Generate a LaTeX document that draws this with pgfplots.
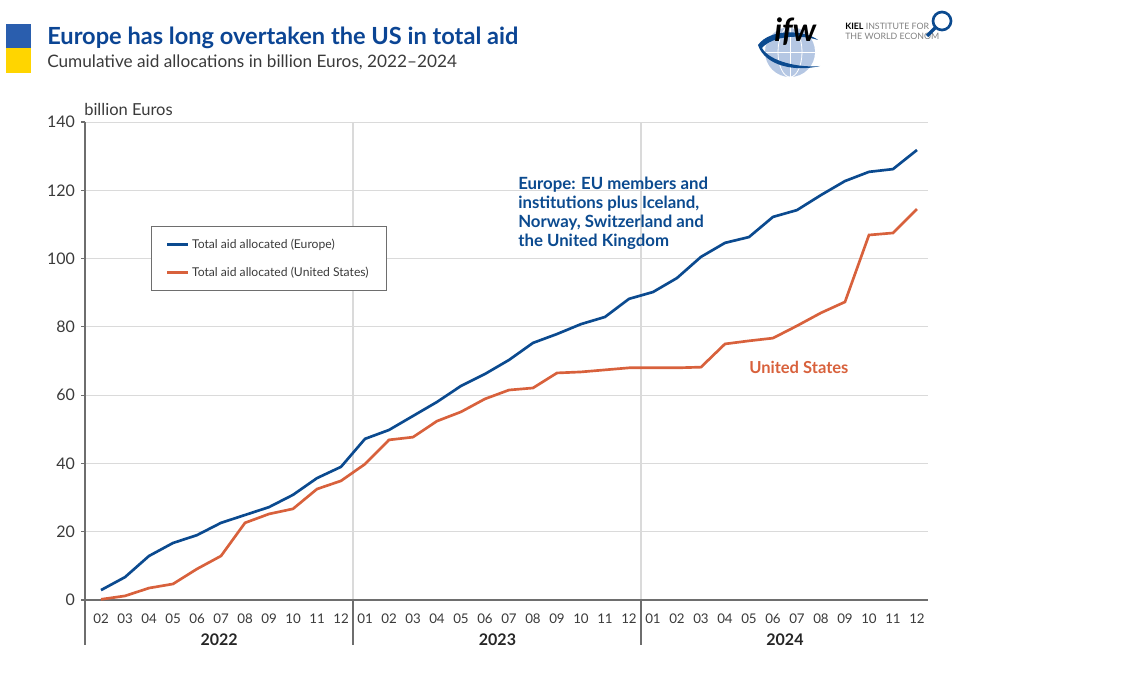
\documentclass[border=0pt]{standalone}
\usepackage{fontspec}
\setmainfont{Lato}
\usepackage{pgfplots}
\pgfplotsset{compat=1.18}
\definecolor{eu}{HTML}{0B4A8F}
\definecolor{us}{HTML}{D8613C}
\definecolor{flagblue}{HTML}{2A5EAE}
\definecolor{flagyellow}{HTML}{FFD500}
\definecolor{titleblue}{HTML}{0B4594}
\definecolor{gridc}{HTML}{DADADA}
\definecolor{axc}{HTML}{6E6E6E}
\definecolor{txt}{HTML}{3A3A3A}
\begin{document}
\begin{tikzpicture}[x=0.75pt,y=-0.75pt]
\path[use as bounding box] (0,0) rectangle (1137,673);
% flag
\fill[flagblue] (6,24) rectangle (31,48);
\fill[flagyellow] (6,48) rectangle (31,73);
% title
\node[anchor=base west, inner sep=0pt, font=\fontsize{17.7}{20}\selectfont\bfseries, text=titleblue] at (47,45) {Europe has long overtaken the US in total aid};
\node[anchor=base west, inner sep=0pt, font=\fontsize{12.9}{15}\selectfont, text=txt] at (47,68) {Cumulative aid allocations in billion Euros, 2022--2024};
% logo
\fill[flagblue!35] (790,52) circle (25);
\draw[white, line width=0.6pt] (790,27) -- (790,77) (765,52) -- (815,52);
\draw[white, line width=0.6pt] (790,52) ellipse (12 and 25);
\fill[eu] (758,45) .. controls (770,28) and (805,30) .. (818,40) .. controls (800,34) and (772,36) .. (762,48) .. controls (770,62) and (800,68) .. (820,66) .. controls (795,72) and (765,66) .. (758,45) -- cycle;
\node[anchor=base west, inner sep=0pt, font=\fontsize{24}{24}\selectfont\bfseries\itshape, text=black] at (774,42) {ifw};
\node[anchor=base west, inner sep=0pt, font=\fontsize{6.6}{7}\selectfont, text=gray] at (845,30) {\textbf{\textcolor{black}{KIEL}} INSTITUTE FOR};
\node[anchor=base west, inner sep=0pt, font=\fontsize{6.6}{7}\selectfont, text=gray] at (845,40) {THE WORLD ECONOM};
\draw[eu, line width=2pt] (942,21) circle (9);
\draw[eu, line width=2.5pt] (935,28) -- (927,36);
% chart
\begin{axis}[
  at={(63.75pt,-450pt)}, anchor=south west,
  scale only axis, width=632.25pt, height=358.5pt,
  xmin=-0.667, xmax=34.46, ymin=0, ymax=140,
  clip=false,
  axis line style={draw=none},
  ytick pos=left,
  ytick={0,20,...,140},
  ymajorgrids, grid style={gridc, line width=0.7pt},
  xtick={0,...,34},
  xticklabels={02,03,04,05,06,07,08,09,10,11,12,01,02,03,04,05,06,07,08,09,10,11,12,01,02,03,04,05,06,07,08,09,10,11,12},
  x tick style={draw=none},
  y tick style={axc, line width=0.8pt},
  tick align=outside, major tick length=3pt,
  every tick label/.append style={text=txt},
  yticklabel style={font=\fontsize{12}{12}\selectfont, xshift=-1pt},
  xticklabel style={font=\fontsize{10}{10}\selectfont, yshift=-4pt},
  /pgf/number format/assume math mode=true,
  legend style={at={(0.0783,0.782)}, anchor=north west, draw=axc, line width=0.6pt,
    font=\fontsize{9.1}{10}\selectfont, text=txt, inner xsep=11pt, inner ysep=7pt, row sep=8.5pt, fill=white},
  legend cell align=left,
  legend image code/.code={\draw[#1, line width=2pt] (0pt,0pt) -- (15.5pt,0pt);},
]
\draw[gridc, line width=0.8pt] (axis cs:10.5,0) -- (axis cs:10.5,140);
\draw[gridc, line width=0.8pt] (axis cs:22.5,0) -- (axis cs:22.5,140);
\draw[axc, line width=0.8pt] (axis cs:10.5,0) -- (axis cs:10.5,-13.2);
\draw[axc, line width=0.8pt] (axis cs:22.5,0) -- (axis cs:22.5,-13.2);
\draw[axc, line width=0.8pt] (axis cs:-0.667,140) -- (axis cs:-0.667,-13.2);
\draw[axc, line width=0.8pt] (axis cs:-0.667,0) -- (axis cs:34.46,0);
\node[font=\fontsize{12}{12}\selectfont\bfseries, text=black!85] at (axis cs:4.92,-11.7) {2022};
\node[font=\fontsize{12}{12}\selectfont\bfseries, text=black!85] at (axis cs:16.52,-11.7) {2023};
\node[font=\fontsize{12}{12}\selectfont\bfseries, text=black!85] at (axis cs:28.5,-11.7) {2024};
\addplot[eu, line width=2pt] coordinates {
(0,2.9) (1,6.7) (2,12.9) (3,16.7) (4,19.0) (5,22.6) (6,24.9) (7,27.2) (8,30.8) (9,35.7) (10,39.0)
(11,47.2) (12,49.8) (13,53.9) (14,58.0) (15,62.7) (16,66.2) (17,70.3) (18,75.3) (19,77.9) (20,80.8) (21,82.9) (22,88.2)
(23,90.2) (24,94.3) (25,100.5) (26,104.6) (27,106.3) (28,112.2) (29,114.2) (30,118.6) (31,122.7) (32,125.4) (33,126.2) (34,131.8)
};
\addlegendentry{Total aid allocated (Europe)}
\addplot[us, line width=2pt] coordinates {
(0,0.2) (1,1.2) (2,3.5) (3,4.7) (4,9.1) (5,12.9) (6,22.6) (7,25.2) (8,26.7) (9,32.5) (10,34.9)
(11,39.8) (12,46.9) (13,47.7) (14,52.4) (15,55.1) (16,58.9) (17,61.5) (18,62.1) (19,66.5) (20,66.8) (21,67.4) (22,68.0)
(23,68.0) (24,68.0) (25,68.2) (26,75.0) (27,75.9) (28,76.7) (29,80.3) (30,84.1) (31,87.3) (32,106.9) (33,107.5) (34,114.5)
};
\addlegendentry{Total aid allocated (United States)}
\end{axis}
\node[anchor=base west, inner sep=0pt, font=\fontsize{12.4}{12}\selectfont, text=txt] at (84,116) {billion Euros};
\node[anchor=north west, inner sep=0pt, align=left, font=\fontsize{12.6}{14.3}\selectfont\bfseries, text=eu] at (518,177) {Europe: EU members and\\institutions plus Iceland,\\Norway, Switzerland and\\the United Kingdom};
\node[anchor=base west, inner sep=0pt, font=\fontsize{12.4}{12}\selectfont\bfseries, text=us] at (749,373) {United States};
\end{tikzpicture}
\end{document}
